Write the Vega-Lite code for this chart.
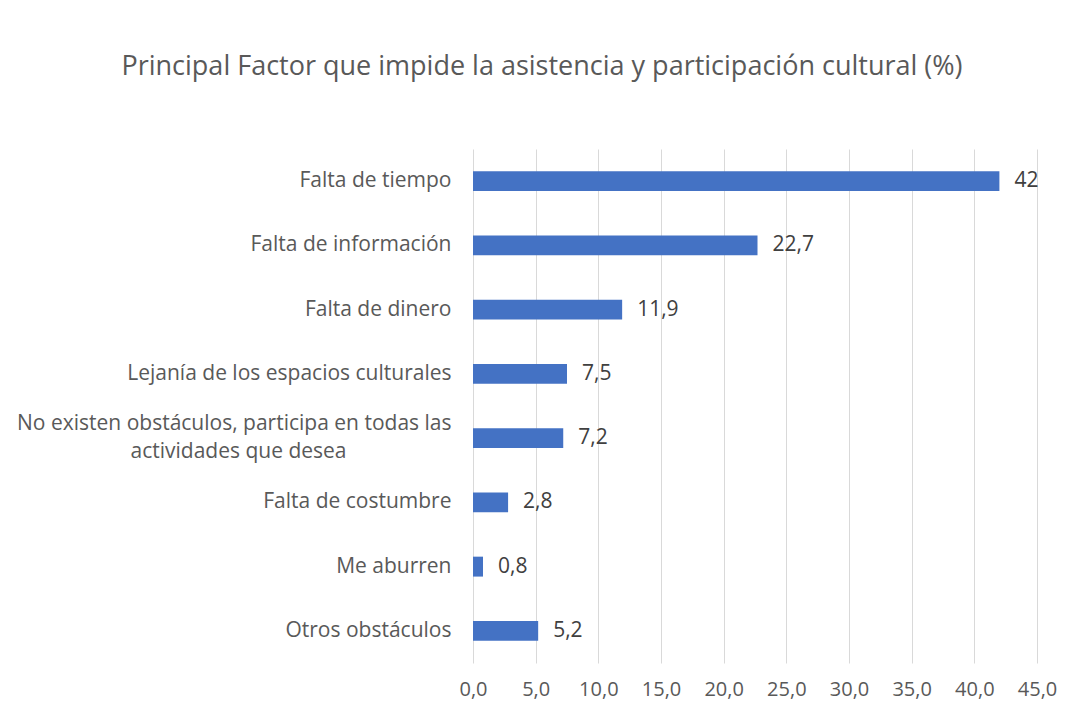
{
  "$schema": "https://vega.github.io/schema/vega-lite/v6.json",
  "autosize": {"type": "none"},
  "width": 564,
  "height": 514,
  "padding": {"left": 473, "top": 149, "right": 28, "bottom": 50},
  "background": "white",
  "title": {
    "text": "Principal Factor que impide la asistencia y participación cultural (%)",
    "font": "Open Sans",
    "fontSize": 27,
    "fontWeight": "normal",
    "color": "#595959",
    "anchor": "middle",
    "dx": -213,
    "offset": 47,
    "baseline": "alphabetic"
  },
  "data": {
    "values": [
      {"factor": "Falta de tiempo", "pct": 42},
      {"factor": "Falta de información", "pct": 22.7},
      {"factor": "Falta de dinero", "pct": 11.9},
      {"factor": "Lejanía de los espacios culturales", "pct": 7.5},
      {"factor": "No existen obstáculos, participa en todas las actividades que desea", "pct": 7.2},
      {"factor": "Falta de costumbre", "pct": 2.8},
      {"factor": "Me aburren", "pct": 0.8},
      {"factor": "Otros obstáculos", "pct": 5.2}
    ]
  },
  "encoding": {
    "y": {
      "field": "factor",
      "type": "nominal",
      "sort": null,
      "scale": {"paddingInner": 0.69, "paddingOuter": 0.345},
      "axis": {
        "title": null,
        "domain": false,
        "ticks": false,
        "labelPadding": 22,
        "labelFont": "Open Sans",
        "labelFontSize": 21,
        "labelColor": "#595959",
        "labelLimit": 600,
        "labelLineHeight": 28,
        "labelOffset": {"condition": {"test": "indexof(datum.value, 'No existen') == 0", "value": -14}, "value": 0},
        "labelExpr": "datum.label == 'No existen obstáculos, participa en todas las actividades que desea' ? ['No existen obstáculos, participa en todas las', 'actividades que desea\u2003\u2003\u2003\u2003\u2003\u200b'] : datum.label"
      }
    },
    "x": {
      "field": "pct",
      "type": "quantitative",
      "scale": {"domain": [0, 45], "nice": false},
      "axis": {
        "title": null,
        "values": [0, 5, 10, 15, 20, 25, 30, 35, 40, 45],
        "domain": false,
        "ticks": false,
        "grid": true,
        "gridColor": "#d9d9d9",
        "labelFlush": false,
        "labelPadding": 16,
        "labelFont": "Open Sans",
        "labelFontSize": 20,
        "labelColor": "#595959",
        "labelExpr": "replace(format(datum.value, '.1f'), '.', ',')"
      }
    }
  },
  "layer": [
    {"mark": {"type": "bar", "color": "#4472C4"}},
    {
      "transform": [{"calculate": "replace(toString(datum.pct), '.', ',')", "as": "lbl"}],
      "mark": {"type": "text", "align": "left", "dx": 15, "baseline": "middle", "font": "Open Sans", "fontSize": 21, "color": "#404040"},
      "encoding": {"text": {"field": "lbl"}}
    }
  ],
  "config": {"view": {"stroke": null}}
}
